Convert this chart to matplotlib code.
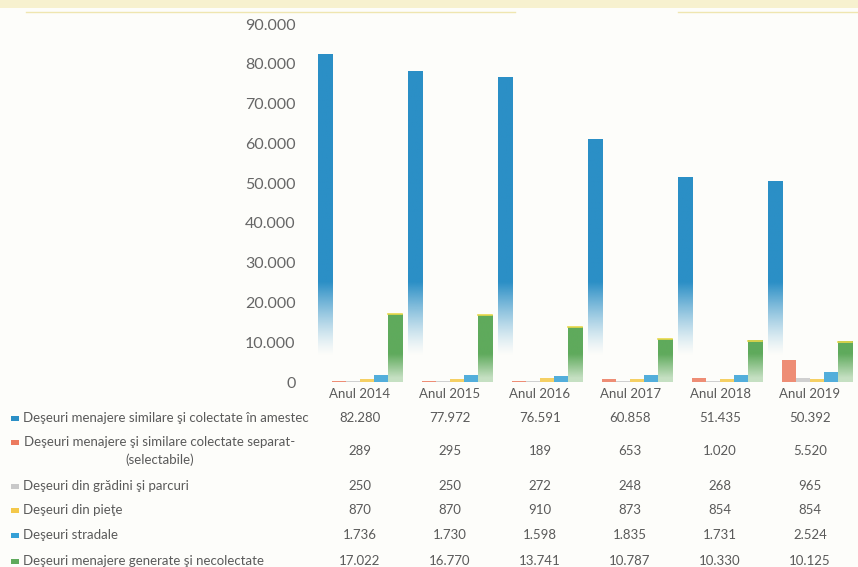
import numpy as np
import matplotlib
matplotlib.use("Agg")
import matplotlib.pyplot as plt
from matplotlib.patches import Rectangle
from matplotlib.transforms import blended_transform_factory

years = ["Anul 2014", "Anul 2015", "Anul 2016", "Anul 2017", "Anul 2018", "Anul 2019"]
series_names = [
    "Deşeuri menajere similare şi colectate în amestec",
    "Deşeuri menajere şi similare colectate separat-\n(selectabile)",
    "Deşeuri din grădini şi parcuri",
    "Deşeuri din pieţe",
    "Deşeuri stradale",
    "Deşeuri menajere generate şi necolectate",
]
amestec = [82280, 77972, 76591, 60858, 51435, 50392]
separat = [289, 295, 189, 653, 1020, 5520]
gradini = [250, 250, 272, 248, 268, 965]
piete = [870, 870, 910, 873, 854, 854]
stradale = [1736, 1730, 1598, 1835, 1731, 2524]
necolectate = [17022, 16770, 13741, 10787, 10330, 10125]
series = [amestec, separat, gradini, piete, stradale, necolectate]
colors = ["#2b8fc6", "#ec7a5e", "#c9c9c9", "#f4c84a", "#35a0d6", "#5faa5c"]
yticks = list(range(0, 90001, 10000))

plt.rcParams['font.family'] = ['Lato', 'DejaVu Sans']
bg = "#fdfdfa"
fig = plt.figure(figsize=(8.58, 5.67), dpi=100, facecolor=bg)
W, H = 858, 567
ax = fig.add_axes([315 / W, 1 - 382 / H, 540 / W, 358 / H])
ax.set_facecolor(bg)
ax.set_xlim(-0.5, 5.5)
ax.set_ylim(0, 90000)

def fmt(v):
    return f"{v:,}".replace(",", ".")

n = len(series)
bw = 0.157
x = np.arange(len(years))
for i, (vals, col) in enumerate(zip(series, colors)):
    offs = (i - (n - 1) / 2) * bw
    for xi, v in zip(x, vals):
        x0 = xi + offs - bw / 2
        if i in (0, 5):
            rgb = np.array(matplotlib.colors.to_rgb(col))
            ys = np.linspace(v, 0, 300)
            if i == 0:
                t = np.clip((ys - 6500) / (25000 - 6500), 0, 1)
                a = t ** 1.3
            else:
                a = 0.35 + 0.65 * np.clip((ys - 1000) / 6000, 0, 1)
            img = np.zeros((300, 1, 4))
            img[:, 0, :3] = rgb
            img[:, 0, 3] = a
            ax.imshow(img, extent=[x0, x0 + bw, 0, v], aspect='auto',
                      interpolation='bilinear', zorder=2)
            if i == 5:
                ax.plot([x0, x0 + bw], [v, v], color="#e8d84a", lw=1.2, zorder=3)
        else:
            ax.bar(x0 + bw / 2, v, width=bw, color=col, alpha=0.85, zorder=2,
                   linewidth=0)

ax.set_xticks([])
ax.set_yticks(yticks)
ax.set_yticklabels([fmt(t) for t in yticks], fontsize=11.5, color="#666666")
ax.tick_params(axis='y', length=0, pad=14)
for s in ax.spines.values():
    s.set_visible(False)

# top decorative band
fig.add_artist(Rectangle((0, 1 - 8 / H), 1, 8 / H, transform=fig.transFigure,
                         color="#f7f1cf", lw=0))
fig.add_artist(plt.Line2D([0.03, 0.60], [1 - 12 / H, 1 - 12 / H],
                          transform=fig.transFigure, color="#efe6b0", lw=1))
fig.add_artist(plt.Line2D([0.79, 1.0], [1 - 12 / H, 1 - 12 / H],
                          transform=fig.transFigure, color="#efe6b0", lw=1))

# data table
tr = blended_transform_factory(ax.transData, fig.transFigure)
tc = "#5a5a5a"
for xi, yr in zip(x, years):
    fig.text(xi, 1 - 394 / H, yr, transform=tr, ha='center', va='center',
             fontsize=9.5, color=tc)
row_y = [418, 451, 486, 510, 535, 561]
for r, (name, vals, col, yy) in enumerate(zip(series_names, series, colors, row_y)):
    yf = 1 - yy / H
    if "\n" in name:
        fig.text(160 / W, yf, name, ha='center', va='center', fontsize=9.5,
                 color=tc, multialignment='center', linespacing=1.55)
        my = 1 - (yy - 9) / H
    else:
        fig.text(23 / W, yf, name, ha='left', va='center', fontsize=9.5, color=tc)
        my = yf
    fig.add_artist(Rectangle((11 / W, my - 2.5 / H), 8 / W, 5 / H,
                             transform=fig.transFigure, color=col, lw=0))
    for xi, v in zip(x, vals):
        fig.text(xi, yf, fmt(v), transform=tr, ha='center', va='center',
                 fontsize=9.5, color=tc)

fig.savefig("out.png", dpi=100, facecolor=bg)
